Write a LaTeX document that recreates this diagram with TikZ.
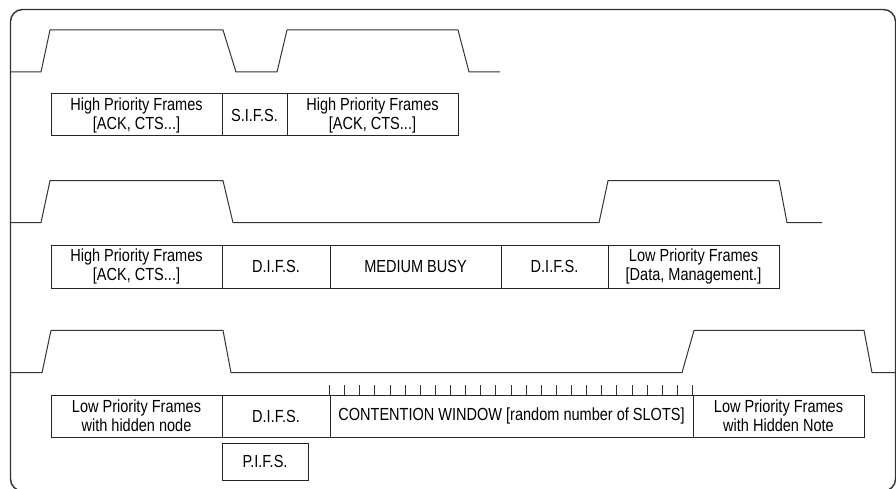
\documentclass[tikz,border=0pt]{standalone}
\usepackage{fontspec}
\setmainfont{Liberation Sans}[FakeStretch=0.83]
\usetikzlibrary{calc}
\begin{document}
\begin{tikzpicture}[x=1pt,y=-1pt,
  lbl/.style={draw=black!85, line width=1pt, inner sep=0pt, align=center,
    text=black, font=\fontsize{17.5}{19}\selectfont},
  wave/.style={draw=black!80, line width=1pt, line join=round},
  tick/.style={draw=black!80, line width=0.9pt}]
\useasboundingbox (0,0) rectangle (896,489);
% outer frame
\draw[black!80, line width=1.4pt, rounded corners=12pt] (10.5,9.5) rectangle (895.5,491);

% ---------- row 1 ----------
\draw[wave] (11,72) -- (41,72) -- (50,30) -- (223,30) -- (236,72) -- (277,72)
  -- (287,30) -- (458,30) -- (469,72) -- (500,72);
\node[lbl, minimum width=171pt, minimum height=42pt] (r1a) at (136.5,115) {High Priority Frames\\{}[ACK, CTS...]};
\node[lbl, minimum width=65pt, minimum height=42pt] (r1b) at (254.5,115) {S.I.F.S.};
\node[lbl, minimum width=171pt, minimum height=42pt] (r1c) at (372.5,115) {High Priority Frames\\{}[ACK, CTS...]};

% ---------- row 2 ----------
\draw[wave] (11,222.7) -- (41,222.7) -- (50,180.7) -- (223,180.7) -- (233,222.7)
  -- (599,222.7) -- (608,180.7) -- (779,180.7) -- (787,222.7) -- (822,222.7);
\node[lbl, minimum width=171pt, minimum height=43pt] (r2a) at (136.5,266.5) {High Priority Frames\\{}[ACK, CTS...]};
\node[lbl, minimum width=108pt, minimum height=43pt] (r2b) at (276,266.5) {D.I.F.S.};
\node[lbl, minimum width=171pt, minimum height=43pt] (r2c) at (415.5,266.5) {MEDIUM BUSY};
\node[lbl, minimum width=107pt, minimum height=43pt] (r2d) at (554.5,266.5) {D.I.F.S.};
\node[lbl, minimum width=171pt, minimum height=43pt] (r2e) at (693.5,266.5) {Low Priority Frames\\{}[Data, Management.]};

% ---------- row 3 ----------
\draw[wave] (11,372.7) -- (42,372.7) -- (51,330.3) -- (223,330.3) -- (231,372.7)
  -- (682,372.7) -- (694,330.3) -- (864,330.3) -- (872,372.7) -- (897,372.7);
\node[lbl, minimum width=171pt, minimum height=42pt] (r3a) at (136.5,416) {Low Priority Frames\\with hidden node};
\node[lbl, minimum width=108pt, minimum height=42pt] (r3b) at (276,416) {D.I.F.S.};
\node[lbl, minimum width=363pt, minimum height=42pt] (r3c) at (511.5,416) {CONTENTION WINDOW [random number of SLOTS]};
\node[lbl, minimum width=171pt, minimum height=42pt] (r3d) at (778.5,416) {Low Priority Frames\\with Hidden Note};
\node[lbl, minimum width=86pt, minimum height=37pt] (pifs) at (265,461.5) {P.I.F.S.};

% slot ticks
\foreach \i in {0,...,24} {
  \draw[tick] ($(r3c.north west)+(\i*15.125,0)$) -- ++(0,-10);
}
\end{tikzpicture}
\end{document}
